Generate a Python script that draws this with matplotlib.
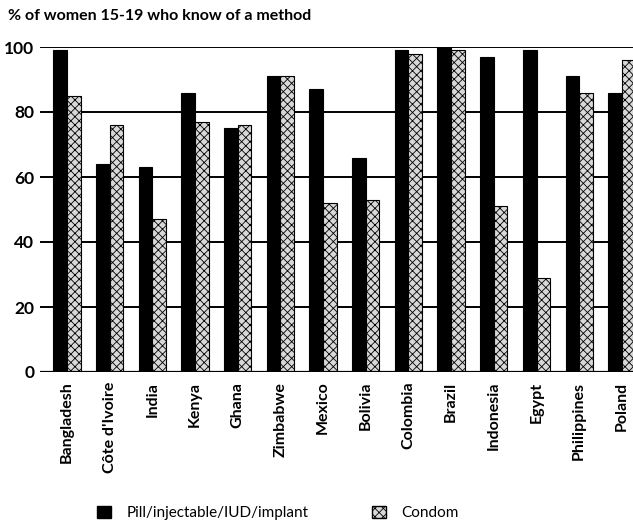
import matplotlib
matplotlib.use("Agg")
import matplotlib.pyplot as plt
import numpy as np
from matplotlib.patches import Patch

countries = ["Bangladesh", "Côte d'Ivoire", "India", "Kenya", "Ghana", "Zimbabwe",
             "Mexico", "Bolivia", "Colombia", "Brazil", "Indonesia", "Egypt",
             "Philippines", "Poland"]
pill = [99, 64, 63, 86, 75, 91, 87, 66, 99, 100, 97, 99, 91, 86]
condom = [85, 76, 47, 77, 76, 91, 52, 53, 98, 99, 51, 29, 86, 96]
yticks = [0, 20, 40, 60, 80, 100]

plt.rcParams['font.family'] = ['Lato', 'DejaVu Sans']
plt.rcParams['hatch.linewidth'] = 0.6

fig = plt.figure(figsize=(6.33, 5.22), dpi=100)
ax = fig.add_axes([40/633, 150/522, 593/633, 325/522])

x = np.arange(len(countries))
w = 0.32
ax.bar(x - w/2, pill, width=w, color='black', edgecolor='black', linewidth=0.8, zorder=3)
ax.bar(x + w/2, condom, width=w, color='#d8d8d8', edgecolor='black', linewidth=0.8,
       hatch='xxxx', zorder=3)

for t in yticks[1:]:
    ax.axhline(t, color='black', linewidth=1.4, zorder=1)
ax.axhline(0, color='black', linewidth=1.6, zorder=4)

ax.set_xlim(-0.63, 13.26)
ax.set_ylim(0, 100)
ax.set_yticks(yticks)
ax.set_yticklabels([str(v) for v in yticks], fontsize=12.5, fontweight='bold')
ax.set_xticks(x)
ax.set_xticklabels(countries, rotation=90, fontsize=11.5, fontweight='bold', va='top')
ax.tick_params(axis='both', length=0)
ax.tick_params(axis='y', pad=4)
ax.tick_params(axis='x', pad=7)
for s in ax.spines.values():
    s.set_visible(False)

fig.text(8/633, 1 - 16/522, "% of women 15-19 who know of a method", fontsize=11.5,
         fontweight='bold', va='center', ha='left')

handles = [Patch(facecolor='black', edgecolor='black'),
           Patch(facecolor='#d8d8d8', edgecolor='black', hatch='xxxx')]
fig.legend(handles, ["Pill/injectable/IUD/implant", "Condom"], loc='center',
           bbox_to_anchor=(278/633, 1 - 513/522), ncol=2, frameon=False, fontsize=11,
           handlelength=0.9, handleheight=0.9, columnspacing=4.2, handletextpad=1.0)

fig.savefig("out.png", dpi=100)
